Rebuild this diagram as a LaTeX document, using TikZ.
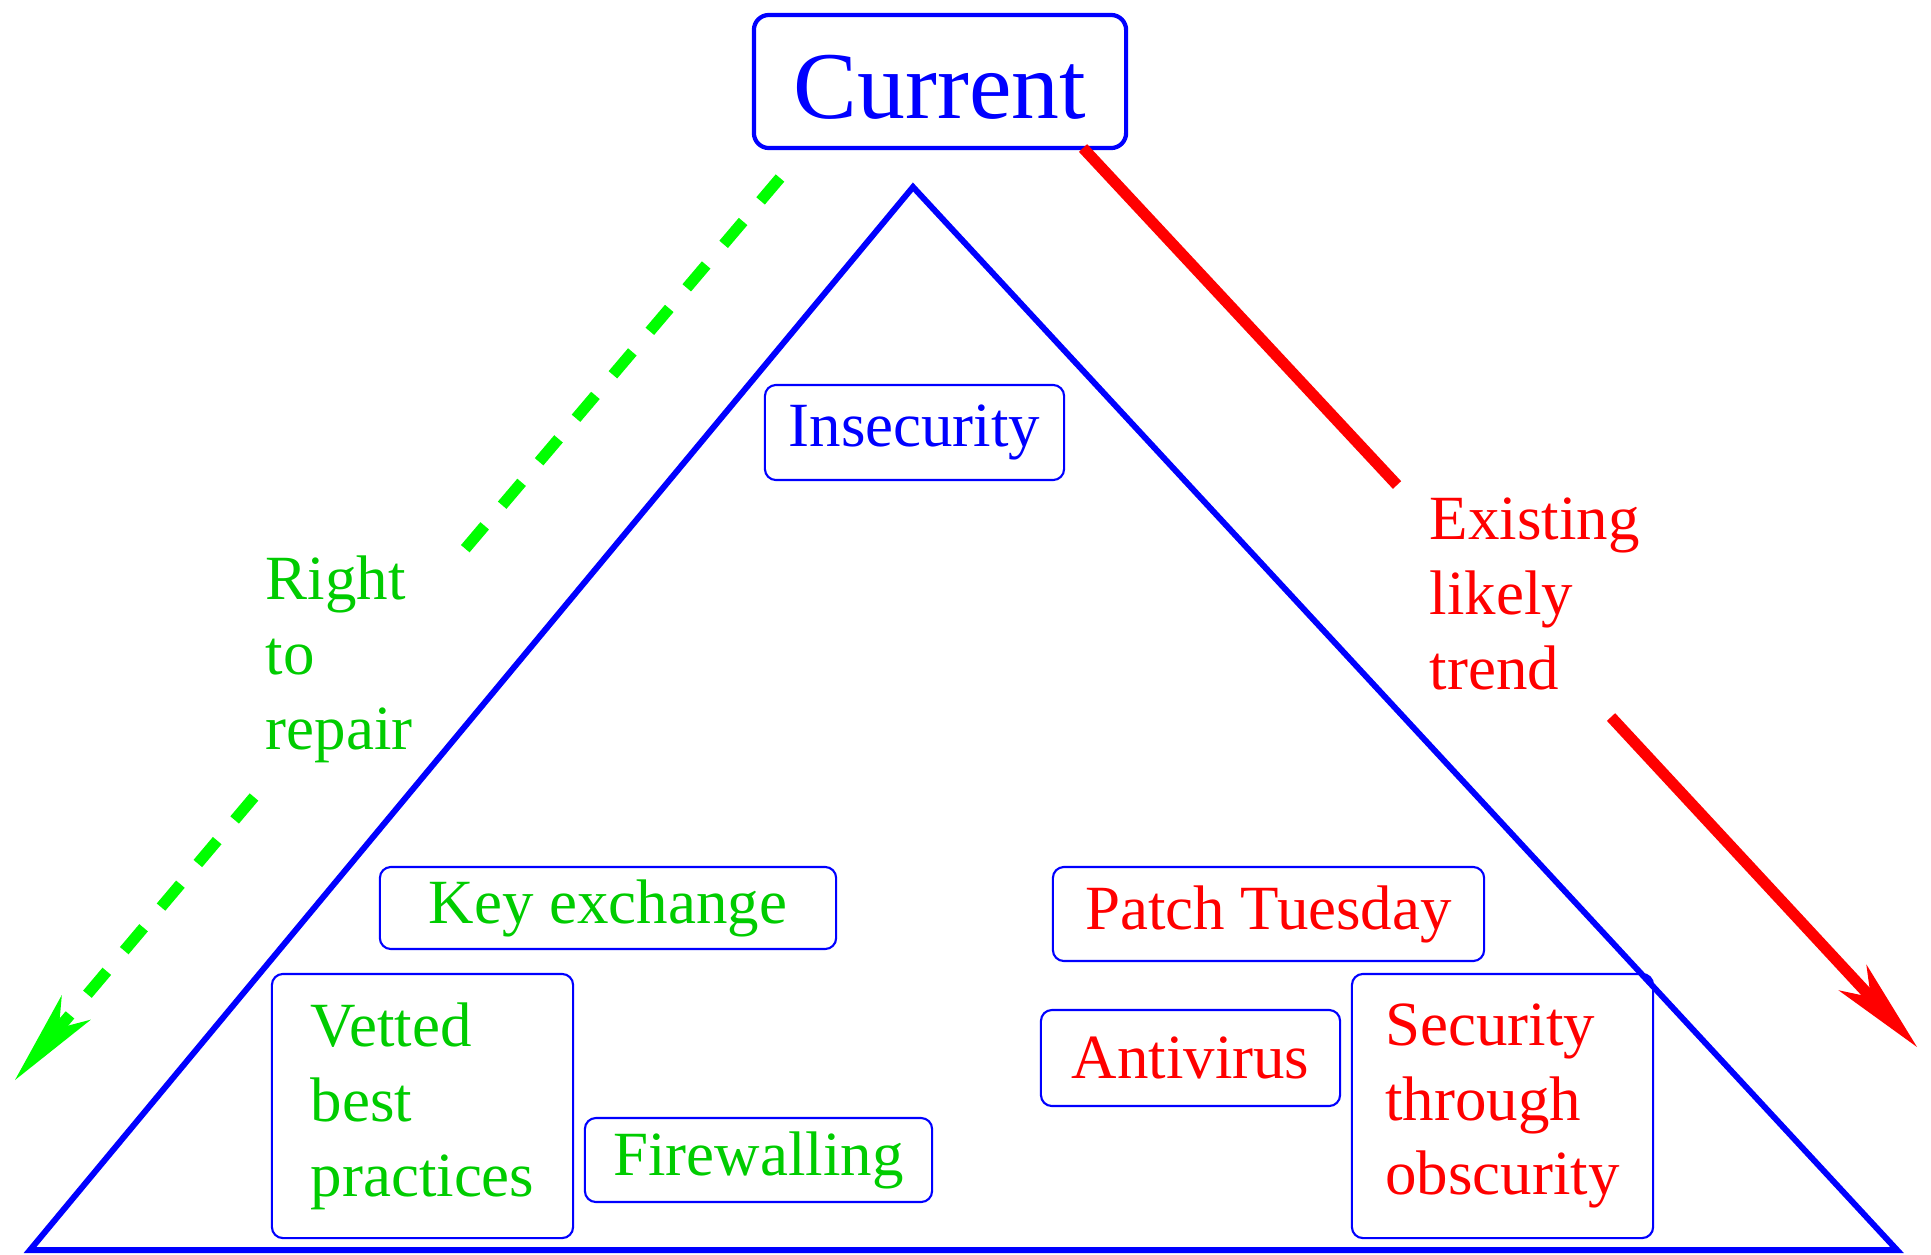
\documentclass[tikz,border=0pt]{standalone}
\usepackage{fontspec}
\setmainfont{Liberation Serif}
\usepackage{xcolor}
\usepackage{tikz}
\usetikzlibrary{arrows.meta, calc}

\definecolor{tagblue}{RGB}{0,0,255}
\definecolor{goodgreen}{RGB}{0,204,0}
\definecolor{dashgreen}{RGB}{0,255,0}
\definecolor{badred}{RGB}{255,0,0}

\begin{document}
\begin{tikzpicture}[x=0.01cm, y=-0.01cm,
    tag/.style={draw=tagblue, line width=0.6pt, rounded corners=0.11cm, inner sep=0pt,
        align=left, font=\fontsize{17.9}{21.3}\selectfont},
    trendlabel/.style={anchor=north west, inner sep=0pt, align=left,
        font=\fontsize{17.9}{21.3}\selectfont},
    trendline/.style={line width=3.2pt},
    trendarrow/.style={trendline, -{Stealth[length=0.95cm, width=0.38cm, inset=0.27cm, line width=0.4pt]}}]
    \useasboundingbox (0,0) rectangle (1931,1254);

    % Top box
    \node[draw=tagblue, line width=1.2pt, rounded corners=0.15cm, minimum width=3.72cm,
        minimum height=1.33cm, inner sep=0pt, text height=0.73cm, text depth=0cm,
        text=tagblue, font=\fontsize{27.2}{32.6}\selectfont] (current) at (940,81.5) {Current};

    % Pyramid
    \coordinate (apex) at (913,187);
    \coordinate (lcorner) at (30,1250);
    \coordinate (rcorner) at (1897,1250);
    \draw[tagblue, line width=1.7pt, line join=miter] (apex) -- (rcorner) -- (lcorner) -- cycle;

    % Boxes inside the pyramid
    \node[tag, text=tagblue, minimum width=2.99cm, minimum height=0.95cm] (insec) at (914.5,432.5) {Insecurity};
    \node[tag, text=goodgreen, minimum width=4.56cm, minimum height=0.82cm] (keyx) at (608,908) {Key exchange};
    \node[tag, text=badred, minimum width=4.31cm, minimum height=0.94cm] (patch) at (1268.5,914) {Patch Tuesday};
    \node[tag, text=goodgreen, minimum width=3.01cm, minimum height=2.64cm] (vetted) at (422.5,1106) {Vetted\\best\\practices};
    \node[tag, text=goodgreen, minimum width=3.47cm, minimum height=0.84cm] (fwall) at (758.5,1160) {Firewalling};
    \node[tag, text=badred, minimum width=2.99cm, minimum height=0.96cm] (antivir) at (1190.5,1058) {Antivirus};
    \node[tag, text=badred, minimum width=3.01cm, minimum height=2.64cm] (obscur) at (1502.5,1106) {Security\\through\\obscurity};

    % Side labels
    \node[trendlabel, text=goodgreen] (repair) at (265,555) {Right\\to\\repair};
    \node[trendlabel, text=badred] (trend) at (1429,497) {Existing\\likely\\trend};

    % Green dashed arrow, broken by its label
    \coordinate (gstart) at (780,178);
    \coordinate (gbreaka) at (465,549);
    \coordinate (gbreakb) at (254,797);
    \coordinate (gend) at (15,1080);
    \draw[dashgreen, trendline, dash pattern=on 0.3cm off 0.27cm] (gstart) -- (gbreaka);
    \draw[dashgreen, trendarrow, dash pattern=on 0.3cm off 0.27cm] (gbreakb) -- (gend);

    % Red arrow, broken by its label
    \coordinate (rstart) at (1083,148);
    \coordinate (rbreaka) at (1397,485);
    \coordinate (rbreakb) at (1611,717);
    \coordinate (rend) at (1917,1047);
    \draw[badred, trendline] (rstart) -- (rbreaka);
    \draw[badred, trendarrow] (rbreakb) -- (rend);
\end{tikzpicture}
\end{document}
